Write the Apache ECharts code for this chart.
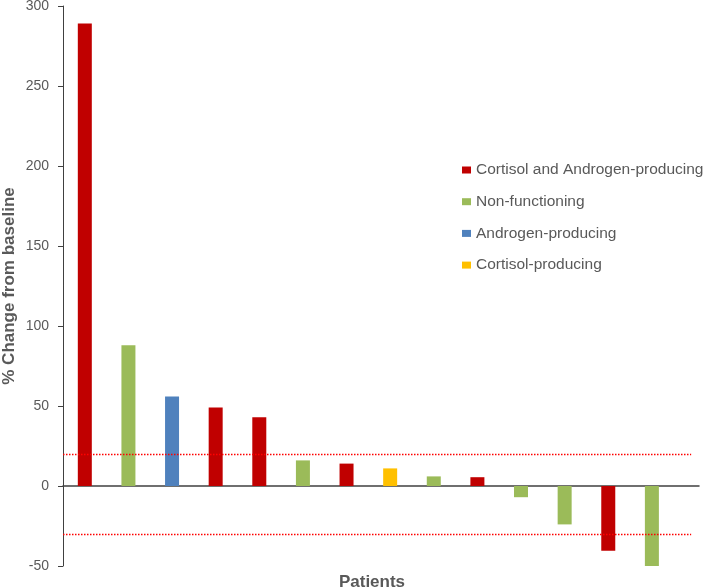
<!DOCTYPE html>
<html>
<head>
<meta charset="utf-8">
<script src="https://cdn.jsdelivr.net/npm/echarts@6/dist/echarts.min.js"></script>
<style>html,body{margin:0;padding:0;background:#fff}#c{width:709px;height:588px}</style>
</head>
<body>
<div id="c"></div>
<script>
// Data
var patients = [1,2,3,4,5,6,7,8,9,10,11,12,13,14];
var changes  = [289, 88, 56, 49, 43, 16, 14, 11, 6, 5.5, -7, -24, -40.5, -50];
var types    = ['CA','NF','A','CA','CA','NF','CA','C','NF','CA','NF','NF','CA','NF'];
var typeKeys   = ['CA','NF','A','C'];
var typeNames  = ['Cortisol and Androgen-producing','Non-functioning','Androgen-producing','Cortisol-producing'];
var typeColors = ['#C00000','#9BBB59','#4F81BD','#FFC000'];
var yTicks = [-50, 0, 50, 100, 150, 200, 250, 300];
var thresholds = [20, -30];

var series = typeKeys.map(function(k, ti){
  var d = [];
  patients.forEach(function(p, i){ if (types[i] === k) d.push([p, changes[i]]); });
  var s = {
    name: typeNames[ti], type: 'bar', data: d, barWidth: 14, barGap: '-100%',
    itemStyle: { color: typeColors[ti] }, silent: true
  };
  if (ti === 0) {
    s.markLine = {
      silent: true, symbol: 'none', label: { show: false },
      lineStyle: { color: '#FF0000', type: [1.5, 1.5], width: 1.3 },
      data: thresholds.map(function(t){ return [{coord:[0.5, t]}, {coord:[14.9, t]}]; })
    };
  }
  return s;
});

var chart = echarts.init(document.getElementById('c'));
chart.setOption({
  animation: false,
  backgroundColor: '#fff',
  title: {
    text: 'Patients', left: 367, top: 569, textAlign: 'center',
    textStyle: { fontFamily: 'Liberation Sans', fontSize: 17, fontWeight: 'bold', color: '#595959' }
  },
  legend: {
    orient: 'vertical', left: 457, top: 157, itemWidth: 9, itemHeight: 7, itemGap: 15.7,
    icon: 'rect',
    textStyle: { fontFamily: 'Liberation Sans', fontSize: 15.5, color: '#595959' },
    data: typeNames
  },
  grid: { left: 63, right: 10, top: 6, bottom: 22, containLabel: false, outerBoundsMode: 'none' },
  xAxis: {
    type: 'value', min: 0.5, max: 15.08,
    axisLine: { onZero: true, lineStyle: { color: '#404040', width: 1.5 } },
    axisTick: { show: false }, axisLabel: { show: false }, splitLine: { show: false }
  },
  yAxis: {
    type: 'value', min: yTicks[0], max: yTicks[yTicks.length-1], interval: 50,
    name: '% Change from baseline', nameLocation: 'middle', nameGap: 45, nameMoveOverlap: false,
    nameTextStyle: { fontFamily: 'Liberation Sans', fontSize: 17, fontWeight: 'bold', color: '#595959' },
    axisLine: { show: true, lineStyle: { color: '#404040', width: 1 } },
    axisTick: { show: true, length: 5, lineStyle: { color: '#404040' } },
    axisLabel: { margin: 14, fontFamily: 'Liberation Sans', fontSize: 14, color: '#595959' },
    splitLine: { show: false }
  },
  series: series
});
</script>
</body>
</html>
